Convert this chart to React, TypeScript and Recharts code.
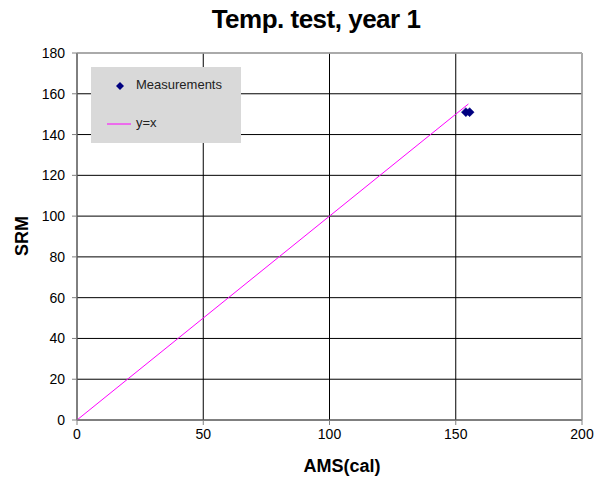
import React from 'react';
import {
  ComposedChart,
  Scatter,
  Line,
  XAxis,
  YAxis,
  CartesianGrid,
  ReferenceLine,
} from 'recharts';

const measurementX = [154, 155.5];
const measurementY = [151, 151];
const identityX = [0, 155];
const xTicks = [0, 50, 100, 150, 200];
const yTicks = [0, 20, 40, 60, 80, 100, 120, 140, 160, 180];

const measurements = measurementX.map((x, i) => ({ x, y: measurementY[i] }));
const identity = identityX.map((x) => ({ x, y: x }));

const FONT = 'Arial, "Liberation Sans", sans-serif';

const Diamond = (props: any) => {
  const { cx, cy } = props;
  if (cx == null || cy == null) return null;
  const r = 4.5;
  return (
    <polygon
      points={`${cx},${cy - r} ${cx + r},${cy} ${cx},${cy + r} ${cx - r},${cy}`}
      fill="#000080"
      stroke="#000080"
      strokeWidth={0.5}
    />
  );
};

const LegendBox = () => (
  <div
    style={{
      position: 'absolute',
      left: 91,
      top: 67,
      width: 150,
      height: 76,
      background: '#d9d9d9',
      fontFamily: FONT,
      fontSize: 13,
      color: '#222',
    }}
  >
    <svg width={40} height={76} style={{ position: 'absolute', left: 0, top: 0 }}>
      <polygon points="29,15 33,19 29,23 25,19" fill="#000080" />
      <line x1={16} y1={57} x2={42} y2={57} stroke="#ff00ff" strokeWidth={1} />
    </svg>
    <div style={{ position: 'absolute', left: 45, top: 10 }}>Measurements</div>
    <div style={{ position: 'absolute', left: 45, top: 48 }}>y=x</div>
  </div>
);

export default function App() {
  return (
    <div style={{ position: 'absolute', left: 0, top: 0, width: 596, height: 480, background: '#fff' }}>
      <ComposedChart
        width={596}
        height={480}
        margin={{ top: 53, right: 14, bottom: 30, left: 0 }}
        style={{ position: 'absolute', left: 0, top: 0 }}
      >
        <CartesianGrid stroke="#000" strokeWidth={1} />
        <XAxis
          type="number"
          dataKey="x"
          domain={[0, 200]}
          ticks={xTicks}
          interval={0}
          height={30}
          stroke="#808080"
          tickSize={5}
          tickMargin={4}
          tick={{ fill: '#000', fontSize: 14, fontFamily: FONT }}
          allowDataOverflow
        />
        <YAxis
          type="number"
          dataKey="y"
          domain={[0, 180]}
          ticks={yTicks}
          interval={0}
          width={77}
          stroke="#808080"
          tickSize={5}
          tickMargin={7}
          tick={{ fill: '#000', fontSize: 14, fontFamily: FONT }}
          allowDataOverflow
        />
        <ReferenceLine y={180} stroke="#b8b8b8" strokeWidth={1.5} />
        <ReferenceLine x={200} stroke="#b8b8b8" strokeWidth={1.5} />
        <Line
          data={identity}
          dataKey="y"
          type="linear"
          stroke="#ff00ff"
          strokeWidth={1}
          dot={false}
          activeDot={false}
          isAnimationActive={false}
          name="y=x"
        />
        <Scatter
          data={measurements}
          dataKey="y"
          shape={<Diamond />}
          isAnimationActive={false}
          name="Measurements"
        />
      </ComposedChart>
      <LegendBox />
      <div
        style={{
          position: 'absolute',
          left: 0,
          width: 632,
          top: 4,
          textAlign: 'center',
          fontFamily: FONT,
          fontWeight: 'bold',
          fontSize: 26,
          letterSpacing: -0.5,
          color: '#000',
        }}
      >
        Temp. test, year 1
      </div>
      <div
        style={{
          position: 'absolute',
          left: 0,
          width: 684,
          top: 456,
          textAlign: 'center',
          fontFamily: FONT,
          fontWeight: 'bold',
          fontSize: 18,
          color: '#000',
        }}
      >
        AMS(cal)
      </div>
      <div
        style={{
          position: 'absolute',
          left: 22,
          top: 236,
          transform: 'translate(-50%, -50%) rotate(-90deg)',
          fontFamily: FONT,
          fontWeight: 'bold',
          fontSize: 18,
          color: '#000',
        }}
      >
        SRM
      </div>
    </div>
  );
}
